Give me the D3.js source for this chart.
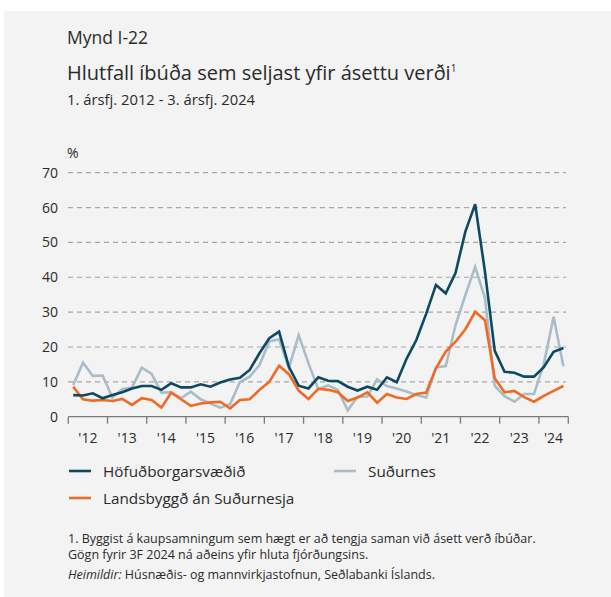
<!DOCTYPE html>
<html>
<head>
<meta charset="utf-8">
<script src="https://cdn.jsdelivr.net/npm/d3@7"></script>
<style>
  body { margin: 0; background: #fff; }
  svg text { font-family: "Open Sans", "Noto Sans", sans-serif; fill: #2b2b2b; }
</style>
</head>
<body>
<div id="chart"></div>
<script>
// quarterly, Q1 2012 .. Q3 2024
var years = ["'12", "'13", "'14", "'15", "'16", "'17", "'18", "'19", "'20", "'21", "'22", "'23", "'24"];
var yTicks = [0, 10, 20, 30, 40, 50, 60, 70];

var hofud = [6.2, 6.1, 6.7, 5.3, 6.2, 7.0, 8.1, 8.8, 8.8, 7.7, 9.6, 8.4, 8.4, 9.3, 8.6, 9.8,
    10.7, 11.2, 13.4, 18.2, 22.5, 24.4, 14.3, 8.9, 8.1, 11.3, 10.3, 10.2, 8.6, 7.5, 8.6, 7.7,
    11.3, 9.9, 16.6, 22.0, 29.5, 37.8, 35.4, 41.3, 53.1, 61.0, 41.6, 18.9, 12.9, 12.6, 11.5, 11.5,
    14.2, 18.6, 19.7];
var sudurnes = [9.1, 15.5, 11.7, 11.8, 5.5, 7.9, 8.4, 14.1, 12.3, 6.9, 7.0, 5.3, 7.2, 5.0, 3.8, 2.6,
    3.6, 9.9, 11.5, 14.8, 21.6, 22.2, 14.0, 23.4, 15.3, 7.9, 9.0, 7.7, 1.8, 5.7, 5.8, 10.7,
    8.8, 8.1, 7.2, 6.2, 5.5, 14.1, 14.5, 26.3, 34.9, 43.0, 34.0, 8.8, 5.9, 4.3, 6.5, 6.5,
    15.1, 28.7, 14.5];
var landsbyggd = [8.6, 5.0, 4.6, 4.8, 4.5, 5.1, 3.4, 5.3, 4.8, 2.6, 6.9, 5.0, 3.1, 3.8, 4.1, 4.3,
    2.4, 4.8, 5.0, 7.7, 10.0, 14.6, 12.2, 7.5, 5.1, 8.0, 7.7, 7.0, 4.5, 5.5, 7.0, 4.0,
    6.5, 5.5, 5.1, 6.5, 6.9, 13.9, 18.7, 21.5, 25.1, 30.1, 27.7, 11.0, 7.0, 7.4, 5.6, 4.3,
    6.0, 7.4, 8.8];

var seriesNames = ["Höfuðborgarsvæðið", "Suðurnes", "Landsbyggð án Suðurnesja"];

var W = 611, H = 597;
var nQ = hofud.length;

var svg = d3.select("#chart")
    .append("svg")
        .attr("width", W)
        .attr("height", H);

svg.append("rect")
    .attr("x", 4).attr("y", 11)
    .attr("width", W - 4).attr("height", H - 11)
    .style("fill", "#f3f3f3");

// titles
svg.append("text").attr("x", 67).attr("y", 44).style("font-size", "17.5px").text("Mynd I-22");
var title = svg.append("text").attr("x", 67).attr("y", 80).style("font-size", "20px")
    .text("Hlutfall íbúða sem seljast yfir ásettu verði");
title.append("tspan").attr("dy", -8).style("font-size", "10px").text("1");
svg.append("text").attr("x", 67).attr("y", 105).style("font-size", "14.8px").text("1. ársfj. 2012 - 3. ársfj. 2024");
svg.append("text").attr("x", 67).attr("y", 158).style("font-size", "14px").text("%");

var x = d3.scaleLinear().domain([0, nQ]).range([68.3, 568.3]);
var y = d3.scaleLinear().domain([0, 70]).range([416.7, 172.7]);

// gridlines
svg.append("g")
    .selectAll("line")
    .data(yTicks.filter(function(d) { return d > 0; }))
    .enter()
    .append("line")
        .attr("x1", 68).attr("x2", 566)
        .attr("y1", function(d) { return y(d); })
        .attr("y2", function(d) { return y(d); })
        .style("stroke", "#a6a6a6")
        .style("stroke-width", 1.2)
        .style("stroke-dasharray", "5,4");

// y labels
svg.append("g")
    .selectAll("text")
    .data(yTicks)
    .enter()
    .append("text")
        .attr("x", 58)
        .attr("y", function(d) { return y(d) + 5; })
        .attr("text-anchor", "end")
        .style("font-size", "14px")
        .text(function(d) { return d; });

// x axis
svg.append("line")
    .attr("x1", x(0)).attr("x2", x(nQ))
    .attr("y1", y(0)).attr("y2", y(0))
    .style("stroke", "#7a7a7a").style("stroke-width", 1.3);

var tickQ = d3.range(0, nQ + 1, 4).concat([nQ]);
svg.append("g")
    .selectAll("line")
    .data(tickQ)
    .enter()
    .append("line")
        .attr("x1", function(d) { return x(d); })
        .attr("x2", function(d) { return x(d); })
        .attr("y1", y(0)).attr("y2", y(0) + 7)
        .style("stroke", "#7a7a7a").style("stroke-width", 1.3);

// labels centred in each year (last year is partial)
svg.append("g")
    .selectAll("text")
    .data(years)
    .enter()
    .append("text")
        .attr("x", function(d, i) {
            var end = Math.min(i * 4 + 4, nQ);
            return x((i * 4 + end) / 2);
        })
        .attr("y", 443)
        .attr("text-anchor", "middle")
        .style("font-size", "14px")
        .text(function(d) { return d; });

// lines
var line = d3.line()
    .x(function(d, i) { return x(i + 0.5); })
    .y(function(d) { return y(d); });

var colors = ["#0d4a62", "#a9bcc8", "#ef6a22"];
var data = [sudurnes, landsbyggd, hofud];
var dataColors = [colors[1], colors[2], colors[0]];

svg.append("g")
    .selectAll("path")
    .data(data)
    .enter()
    .append("path")
        .attr("d", line)
        .style("fill", "none")
        .style("stroke", function(d, i) { return dataColors[i]; })
        .style("stroke-width", 2.6)
        .style("stroke-linejoin", "miter");

// legend
var legendPos = [[69, 471], [334, 471], [69, 498]];
var legend = svg.append("g")
    .selectAll("g")
    .data(seriesNames)
    .enter()
    .append("g")
        .attr("transform", function(d, i) {
            return "translate(" + legendPos[i][0] + ", " + legendPos[i][1] + ")";
        });
legend.append("line")
    .attr("x1", 0).attr("x2", 22)
    .style("stroke", function(d, i) { return colors[i]; })
    .style("stroke-width", 2.6);
legend.append("text")
    .attr("x", 34).attr("y", 5.5)
    .style("font-size", "15.3px")
    .text(function(d) { return d; });

// notes
svg.append("text").attr("x", 68).attr("y", 543).style("font-size", "12.5px")
    .text("1. Byggist á kaupsamningum sem hægt er að tengja saman við ásett verð íbúðar.");
svg.append("text").attr("x", 68).attr("y", 559).style("font-size", "12.5px")
    .text("Gögn fyrir 3F 2024 ná aðeins yfir hluta fjórðungsins.");
var src = svg.append("text").attr("x", 68).attr("y", 579).style("font-size", "12.5px");
src.append("tspan").style("font-style", "italic").text("Heimildir:");
src.append("tspan").text(" Húsnæðis- og mannvirkjastofnun, Seðlabanki Íslands.");
</script>
</body>
</html>
